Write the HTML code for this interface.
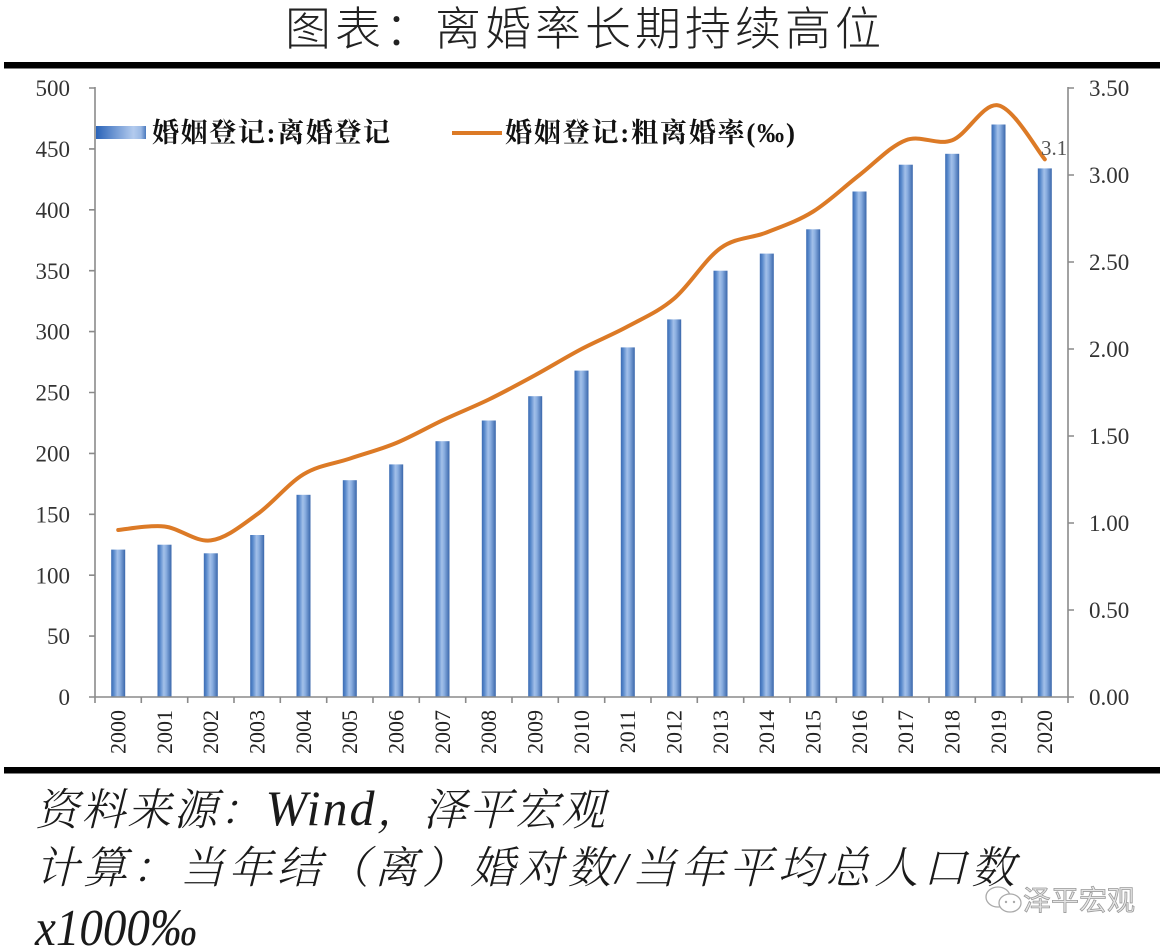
<!DOCTYPE html>
<html>
<head>
<meta charset="utf-8">
<style>
  html,body{margin:0;padding:0;background:#fff;}
  body{width:1171px;height:952px;overflow:hidden;}
  svg{display:block;}
</style>
</head>
<body>
<svg width="1171" height="952" viewBox="0 0 1171 952" xmlns="http://www.w3.org/2000/svg">
  <defs>
    <linearGradient id="barG" x1="0" y1="0" x2="1" y2="0">
      <stop offset="0" stop-color="#3b6bb2"/>
      <stop offset="0.18" stop-color="#5788cb"/>
      <stop offset="0.45" stop-color="#a3c0e9"/>
      <stop offset="0.62" stop-color="#8aaee0"/>
      <stop offset="1" stop-color="#3a67ab"/>
    </linearGradient>
    <linearGradient id="legG" x1="0" y1="0" x2="1" y2="0">
      <stop offset="0" stop-color="#2a63b8"/>
      <stop offset="0.75" stop-color="#b3cbee"/>
      <stop offset="0.9" stop-color="#9ab8e4"/>
      <stop offset="1" stop-color="#4a79bd"/>
    </linearGradient>
  </defs>

  <!-- Title -->
  <text x="285" y="45" font-family="'Liberation Sans','Noto Sans CJK SC',sans-serif" font-weight="300" font-size="46" fill="#222" textLength="596" lengthAdjust="spacing">图表：离婚率长期持续高位</text>

  <!-- top & bottom rules -->
  <rect x="4" y="62" width="1156" height="6.5" fill="#000"/>
  <rect x="4" y="767" width="1156" height="6.5" fill="#000"/>

  <!-- Bars -->
  <g fill="url(#barG)">
    <rect x="111.2" y="549.6" width="14" height="147.4"/>
    <rect x="157.5" y="544.7" width="14" height="152.3"/>
    <rect x="203.8" y="553.3" width="14" height="143.7"/>
    <rect x="250.2" y="535.0" width="14" height="162.0"/>
    <rect x="296.5" y="494.8" width="14" height="202.2"/>
    <rect x="342.8" y="480.2" width="14" height="216.8"/>
    <rect x="389.2" y="464.4" width="14" height="232.6"/>
    <rect x="435.5" y="441.2" width="14" height="255.8"/>
    <rect x="481.8" y="420.5" width="14" height="276.5"/>
    <rect x="528.2" y="396.2" width="14" height="300.8"/>
    <rect x="574.5" y="370.6" width="14" height="326.4"/>
    <rect x="620.8" y="347.4" width="14" height="349.6"/>
    <rect x="667.2" y="319.4" width="14" height="377.6"/>
    <rect x="713.5" y="270.7" width="14" height="426.3"/>
    <rect x="759.8" y="253.6" width="14" height="443.4"/>
    <rect x="806.2" y="229.3" width="14" height="467.7"/>
    <rect x="852.5" y="191.5" width="14" height="505.5"/>
    <rect x="898.8" y="164.7" width="14" height="532.3"/>
    <rect x="945.2" y="153.8" width="14" height="543.2"/>
    <rect x="991.5" y="124.5" width="14" height="572.5"/>
    <rect x="1037.8" y="168.4" width="14" height="528.6"/>
  </g>

  <!-- Axes -->
  <g stroke="#8a8a8a" stroke-width="1.6" fill="none">
    <line x1="95" y1="87" x2="95" y2="697"/>
    <line x1="1068" y1="87" x2="1068" y2="697"/>
    <line x1="95" y1="697" x2="1068" y2="697"/>
    <path d="M89 88H95M89 148.9H95M89 209.8H95M89 270.7H95M89 331.6H95M89 392.5H95M89 453.4H95M89 514.3H95M89 575.2H95M89 636.1H95M89 697H95"/>
    <path d="M1068 88H1074M1068 175H1074M1068 262H1074M1068 349H1074M1068 436H1074M1068 523H1074M1068 610H1074M1068 697H1074"/>
    <path d="M95 697V703M141.3 697V703M187.7 697V703M234 697V703M280.3 697V703M326.7 697V703M373 697V703M419.3 697V703M465.7 697V703M512 697V703M558.3 697V703M604.7 697V703M651 697V703M697.3 697V703M743.7 697V703M790 697V703M836.3 697V703M882.7 697V703M929 697V703M975.3 697V703M1021.7 697V703M1068 697V703"/>
  </g>

  <!-- Left axis labels -->
  <g font-family="'Liberation Serif',serif" font-size="23" fill="#333" text-anchor="end">
    <text x="70" y="88" dy="0.35em">500</text>
    <text x="70" y="148.9" dy="0.35em">450</text>
    <text x="70" y="209.8" dy="0.35em">400</text>
    <text x="70" y="270.7" dy="0.35em">350</text>
    <text x="70" y="331.6" dy="0.35em">300</text>
    <text x="70" y="392.5" dy="0.35em">250</text>
    <text x="70" y="453.4" dy="0.35em">200</text>
    <text x="70" y="514.3" dy="0.35em">150</text>
    <text x="70" y="575.2" dy="0.35em">100</text>
    <text x="70" y="636.1" dy="0.35em">50</text>
    <text x="70" y="697" dy="0.35em">0</text>
  </g>

  <!-- Right axis labels -->
  <g font-family="'Liberation Serif',serif" font-size="23" fill="#333">
    <text x="1089" y="88" dy="0.35em">3.50</text>
    <text x="1089" y="175" dy="0.35em">3.00</text>
    <text x="1089" y="262" dy="0.35em">2.50</text>
    <text x="1089" y="349" dy="0.35em">2.00</text>
    <text x="1089" y="436" dy="0.35em">1.50</text>
    <text x="1089" y="523" dy="0.35em">1.00</text>
    <text x="1089" y="610" dy="0.35em">0.50</text>
    <text x="1089" y="697" dy="0.35em">0.00</text>
  </g>

  <!-- X labels (rotated) -->
  <g font-family="'Liberation Serif',serif" font-size="22" fill="#222" text-anchor="end">
    <text transform="translate(118.2,710) rotate(-90)" dy="0.33em">2000</text>
    <text transform="translate(164.5,710) rotate(-90)" dy="0.33em">2001</text>
    <text transform="translate(210.8,710) rotate(-90)" dy="0.33em">2002</text>
    <text transform="translate(257.2,710) rotate(-90)" dy="0.33em">2003</text>
    <text transform="translate(303.5,710) rotate(-90)" dy="0.33em">2004</text>
    <text transform="translate(349.8,710) rotate(-90)" dy="0.33em">2005</text>
    <text transform="translate(396.2,710) rotate(-90)" dy="0.33em">2006</text>
    <text transform="translate(442.5,710) rotate(-90)" dy="0.33em">2007</text>
    <text transform="translate(488.8,710) rotate(-90)" dy="0.33em">2008</text>
    <text transform="translate(535.2,710) rotate(-90)" dy="0.33em">2009</text>
    <text transform="translate(581.5,710) rotate(-90)" dy="0.33em">2010</text>
    <text transform="translate(627.8,710) rotate(-90)" dy="0.33em">2011</text>
    <text transform="translate(674.2,710) rotate(-90)" dy="0.33em">2012</text>
    <text transform="translate(720.5,710) rotate(-90)" dy="0.33em">2013</text>
    <text transform="translate(766.8,710) rotate(-90)" dy="0.33em">2014</text>
    <text transform="translate(813.2,710) rotate(-90)" dy="0.33em">2015</text>
    <text transform="translate(859.5,710) rotate(-90)" dy="0.33em">2016</text>
    <text transform="translate(905.8,710) rotate(-90)" dy="0.33em">2017</text>
    <text transform="translate(952.2,710) rotate(-90)" dy="0.33em">2018</text>
    <text transform="translate(998.5,710) rotate(-90)" dy="0.33em">2019</text>
    <text transform="translate(1044.8,710) rotate(-90)" dy="0.33em">2020</text>
  </g>

  <!-- Line series -->
  <path fill="none" stroke="#dc7a26" stroke-width="4" stroke-linecap="round" stroke-linejoin="round"
    d="M118.2,530.0
       C125.9,529.4 149.1,524.8 164.5,526.5
       C179.9,528.2 195.4,542.4 210.8,540.4
       C226.2,538.4 241.8,525.3 257.2,514.3
       C272.6,503.3 288.1,483.6 303.5,474.3
       C318.9,465.0 334.4,463.8 349.8,458.6
       C365.2,453.4 380.8,449.4 396.2,443.0
       C411.6,436.6 427.1,427.6 442.5,420.3
       C457.9,413.0 473.4,407.0 488.8,399.5
       C504.2,392.0 519.8,383.5 535.2,375.1
       C550.6,366.7 566.1,357.1 581.5,349.0
       C596.9,340.9 612.4,334.8 627.8,326.4
       C643.2,318.0 658.8,311.6 674.2,298.5
       C689.6,285.4 705.1,259.1 720.5,248.1
       C735.9,237.1 751.4,238.5 766.8,232.4
       C782.2,226.3 797.8,221.1 813.2,211.5
       C828.6,201.9 844.1,186.9 859.5,175.0
       C874.9,163.1 890.4,146.0 905.8,140.2
       C921.2,134.4 936.8,146.0 952.2,140.2
       C967.6,134.4 983.1,102.2 998.5,105.4
       C1013.9,108.6 1037.1,150.3 1044.8,159.3"/>

  <!-- data label -->
  <text x="1041" y="155" font-family="'Liberation Serif',serif" font-size="21" fill="#555">3.1</text>

  <!-- Legend -->
  <rect x="96" y="126" width="50" height="13" fill="url(#legG)"/>
  <text x="152" y="142" font-family="'Liberation Serif','Noto Serif CJK SC',serif" font-weight="bold" font-size="27" fill="#111" textLength="238" lengthAdjust="spacing">婚姻登记:离婚登记</text>
  <line x1="452" y1="133" x2="502" y2="133" stroke="#dc7a26" stroke-width="4"/>
  <text x="505" y="142" font-family="'Liberation Serif','Noto Serif CJK SC',serif" font-weight="bold" font-size="27" fill="#111" textLength="290" lengthAdjust="spacing">婚姻登记:粗离婚率(‰)</text>

  <!-- Footer -->
  <g font-family="'Liberation Serif','Noto Serif CJK SC',serif" font-style="italic" font-weight="300" fill="#1a1a1a">
    <text x="35" y="825" font-size="44" textLength="570" lengthAdjust="spacing">资料来源：<tspan font-size="50">Wind</tspan>，泽平宏观</text>
    <text x="35" y="883" font-size="44" textLength="980" lengthAdjust="spacing">计算：当年结（离）婚对数/当年平均总人口数</text>
    <text x="35" y="945" font-size="52" textLength="162" lengthAdjust="spacingAndGlyphs">x1000‰</text>
  </g>

  <!-- Watermark -->
  <g fill="none" stroke="#aaa" stroke-width="1.3">
    <ellipse cx="998" cy="897" rx="12" ry="10"/>
    <ellipse cx="1010" cy="903" rx="11" ry="9" fill="#fff"/>
    <circle cx="1006" cy="902" r="1.2" fill="#aaa" stroke="none"/>
    <circle cx="1014" cy="902" r="1.2" fill="#aaa" stroke="none"/>
  </g>
  <text x="1023" y="910" font-family="'Liberation Sans','Noto Sans CJK SC',sans-serif" font-size="28" fill="#e6e6e6" stroke="#9a9a9a" stroke-width="0.8" textLength="112" lengthAdjust="spacing">泽平宏观</text>
</svg>
</body>
</html>
